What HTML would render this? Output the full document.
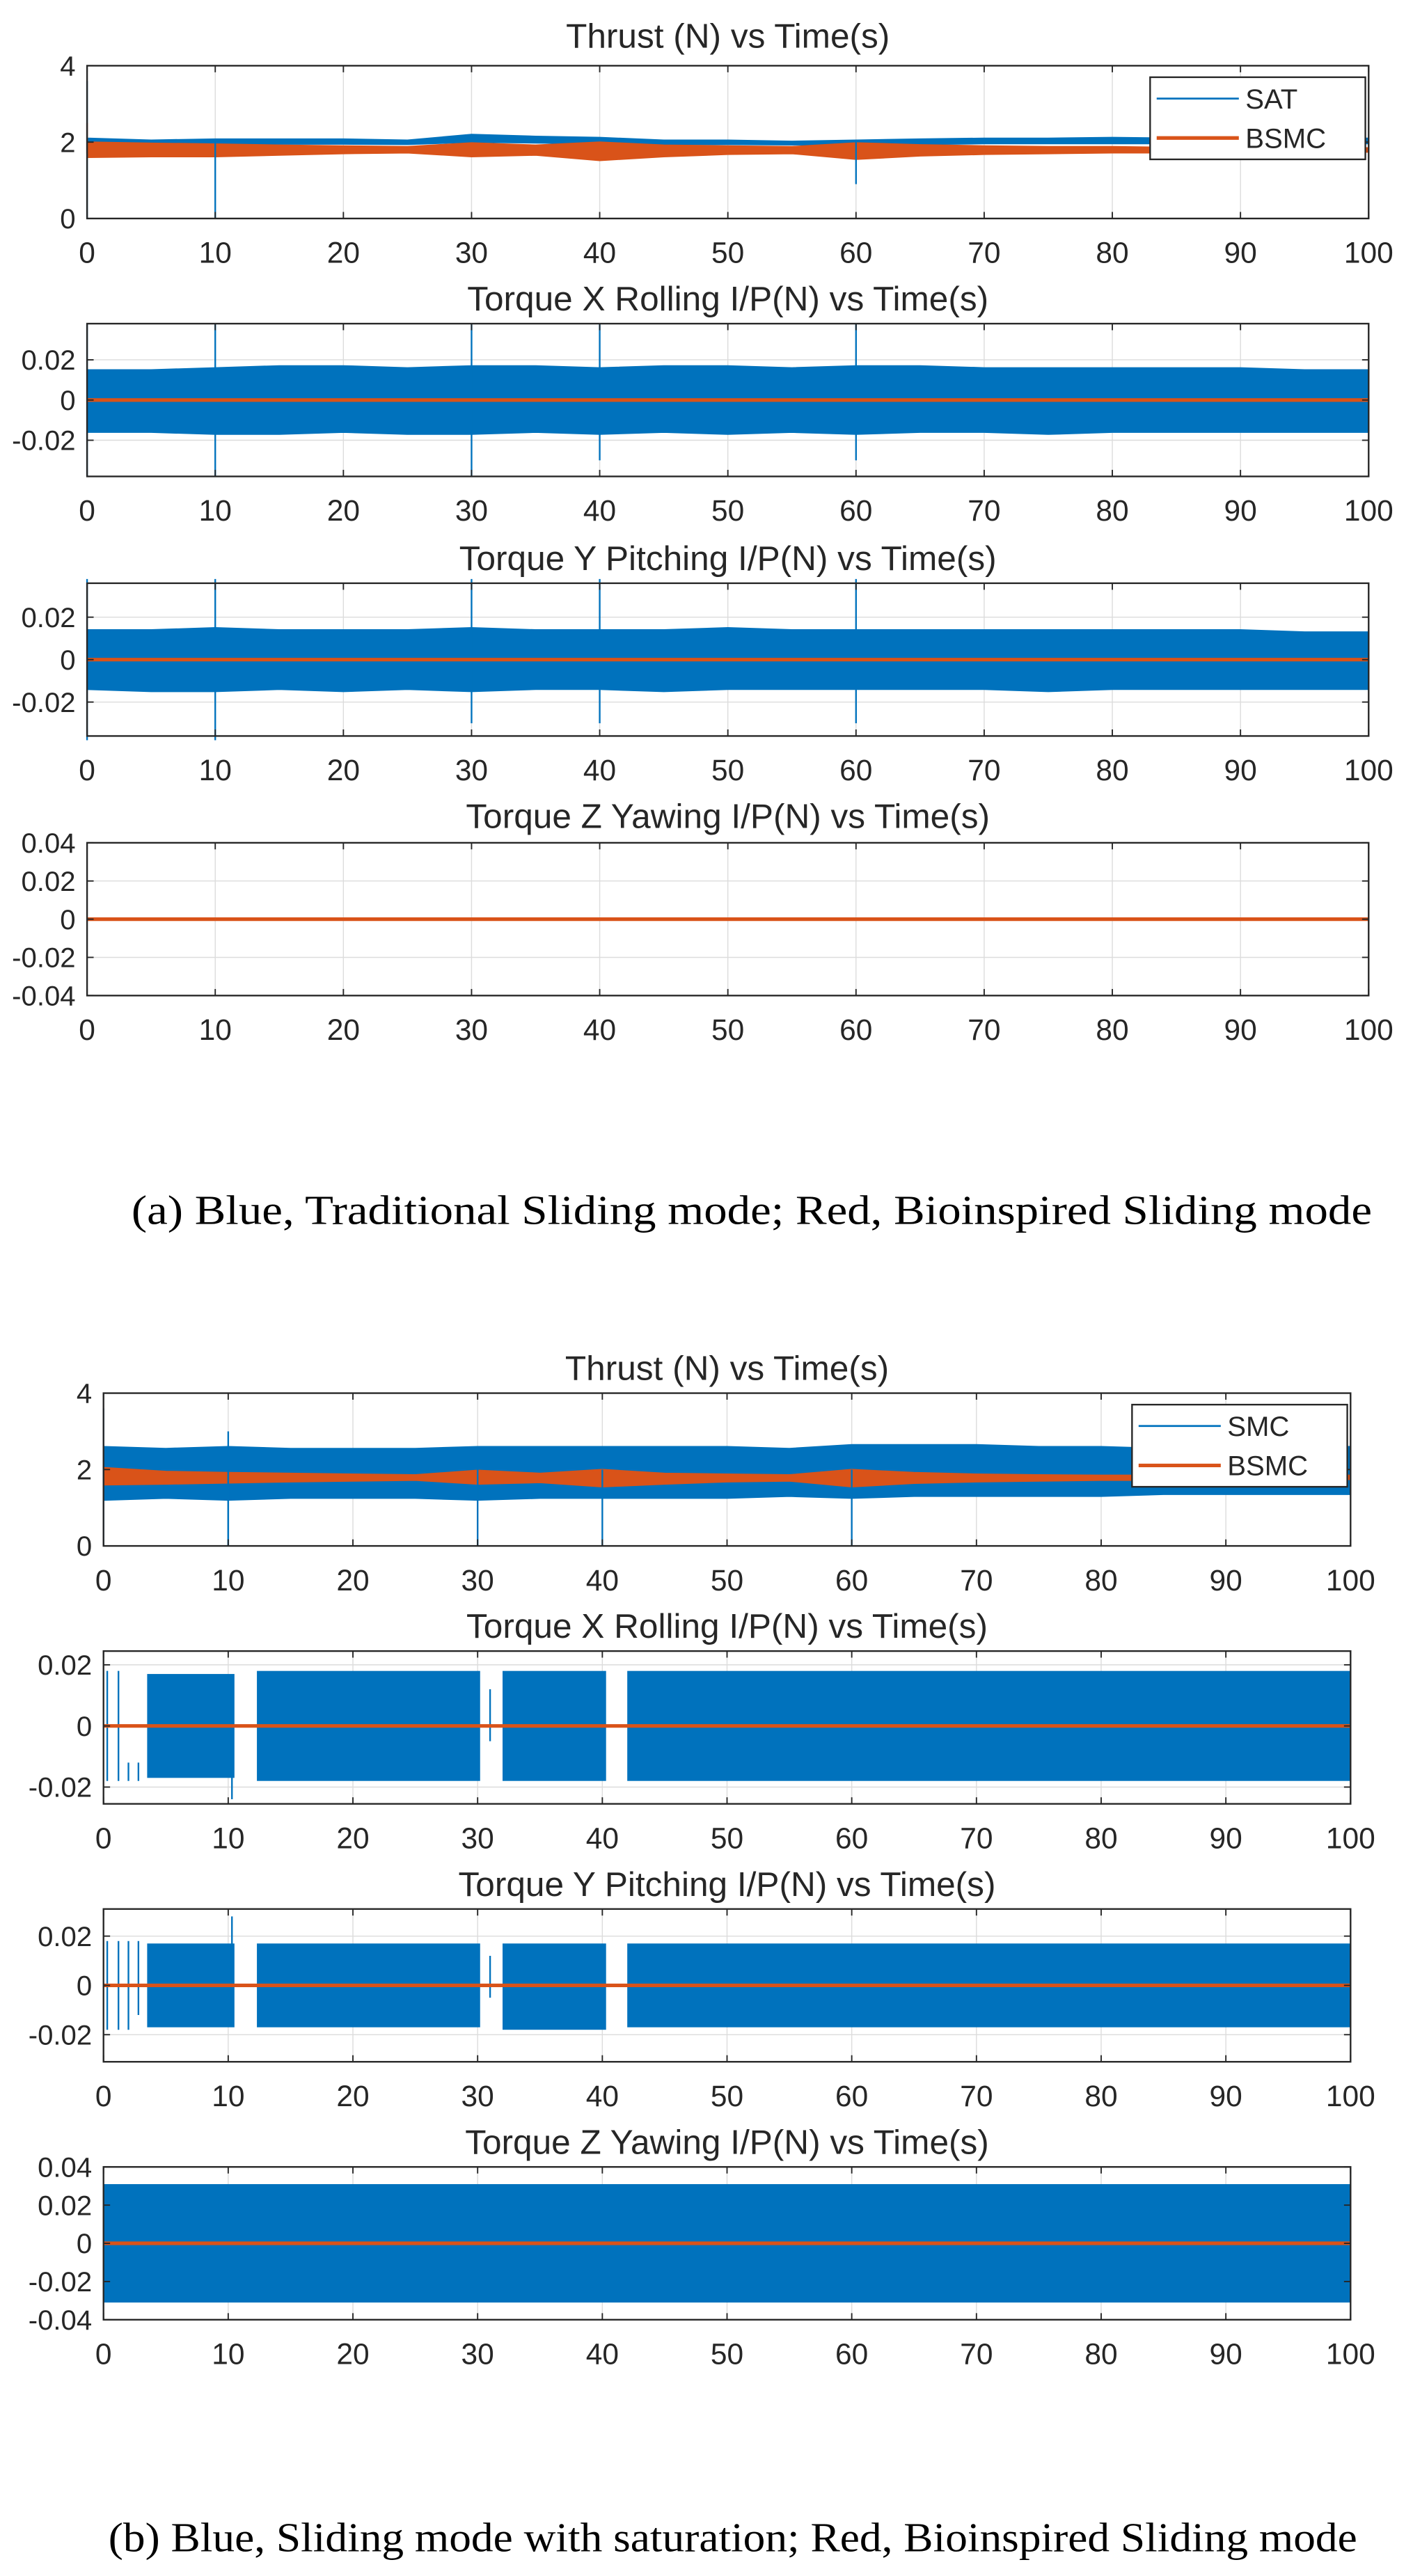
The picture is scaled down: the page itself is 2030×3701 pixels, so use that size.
<!DOCTYPE html>
<html><head><meta charset="utf-8"><style>
html,body{margin:0;padding:0;background:#fff}
svg{display:block}
text{font-family:"Liberation Sans",Arial,sans-serif;fill:#262626}
.cap{font-family:"Liberation Serif","Times New Roman",serif;fill:#000}
</style></head><body>
<svg id="fig" width="2030" height="3701" viewBox="0 0 860 1568" preserveAspectRatio="none" xmlns="http://www.w3.org/2000/svg">
<text class="cap" x="80" y="745" font-size="25" textLength="755" lengthAdjust="spacingAndGlyphs">(a) Blue, Traditional Sliding mode; Red, Bioinspired Sliding mode</text>
<text class="cap" x="66" y="1553" font-size="25" textLength="760" lengthAdjust="spacingAndGlyphs">(b) Blue, Sliding mode with saturation; Red, Bioinspired Sliding mode</text>
</svg>
<script>
// ---- data ----
const xTicks = [0,10,20,30,40,50,60,70,80,90,100];
const thrustTicks = [0,2,4];
const torqueTicks2 = [-0.02,0,0.02];
const torqueTicks4 = [-0.04,-0.02,0,0.02,0.04];
const titles = ["Thrust (N) vs Time(s)","Torque X Rolling I/P(N) vs Time(s)","Torque Y Pitching I/P(N) vs Time(s)","Torque Z Yawing I/P(N) vs Time(s)"];

const envT = [0,5,10,15,20,25,30,35,40,45,50,55,60,65,70,75,80,85,90,95,100];
const a1SatHi = [2.1,2.05,2.08,2.08,2.08,2.05,2.2,2.15,2.12,2.05,2.05,2.02,2.05,2.08,2.1,2.1,2.12,2.1,2.1,2.1,2.1];
const a1SatLo = [1.95,1.95,1.95,1.95,1.95,1.94,2.0,1.98,1.96,1.94,1.94,1.93,1.92,1.94,1.96,1.96,1.96,1.96,1.96,1.96,1.96];
const a1BsHi = [2.0,1.97,1.95,1.92,1.9,1.88,1.98,1.92,2.0,1.92,1.9,1.88,1.98,1.93,1.9,1.88,1.88,1.86,1.86,1.85,1.85];
const a1BsLo = [1.6,1.62,1.62,1.66,1.7,1.72,1.62,1.66,1.52,1.62,1.68,1.7,1.55,1.64,1.68,1.7,1.72,1.72,1.74,1.74,1.74];
const a2Hi = [0.015,0.015,0.016,0.017,0.017,0.016,0.017,0.017,0.016,0.017,0.017,0.016,0.017,0.017,0.016,0.016,0.016,0.016,0.016,0.015,0.015];
const a2Lo = [-0.016,-0.016,-0.017,-0.017,-0.016,-0.017,-0.017,-0.016,-0.017,-0.016,-0.017,-0.016,-0.017,-0.016,-0.016,-0.017,-0.016,-0.016,-0.016,-0.016,-0.016];
const a3Hi = [0.014,0.014,0.015,0.014,0.014,0.014,0.015,0.014,0.014,0.014,0.015,0.014,0.014,0.014,0.014,0.014,0.014,0.014,0.014,0.013,0.013];
const a3Lo = [-0.014,-0.015,-0.015,-0.014,-0.015,-0.014,-0.015,-0.014,-0.014,-0.015,-0.014,-0.014,-0.014,-0.014,-0.014,-0.015,-0.014,-0.014,-0.014,-0.014,-0.014];
const b1SmcHi = [2.6,2.55,2.6,2.55,2.55,2.55,2.6,2.6,2.6,2.6,2.6,2.55,2.65,2.65,2.65,2.6,2.6,2.55,2.55,2.55,2.6];
const b1SmcLo = [1.2,1.25,1.2,1.25,1.25,1.25,1.2,1.25,1.25,1.25,1.25,1.3,1.25,1.3,1.3,1.3,1.3,1.35,1.35,1.35,1.35];
const b1BsHi = [2.05,1.95,1.92,1.9,1.88,1.86,1.98,1.9,2.0,1.9,1.88,1.86,2.0,1.92,1.88,1.86,1.85,1.85,1.85,1.85,1.85];
const b1BsLo = [1.6,1.62,1.65,1.68,1.7,1.72,1.62,1.66,1.55,1.62,1.68,1.7,1.55,1.64,1.68,1.7,1.72,1.72,1.74,1.74,1.74];
const b2Start = [3.5,12.3,32.0,42.0];
const b2End   = [10.5,30.2,40.3,100];
const b2Hi    = [0.017,0.018,0.018,0.018];
const b2Lo    = [-0.017,-0.018,-0.018,-0.018];
const b3Start = [3.5,12.3,32.0,42.0];
const b3End   = [10.5,30.2,40.3,100];
const b3Hi    = [0.017,0.017,0.017,0.017];
const b3Lo    = [-0.017,-0.017,-0.018,-0.017];
const b4Start = [0];
const b4End   = [100];
const b4Hi    = [0.031];
const b4Lo    = [-0.031];
const a1SpikeT = [0,0,10,60];  const a1SpikeA=[3.6,2.0,2.0,2.0]; const a1SpikeB=[0,2.0,0,0.9];
const a1BsSpikeT=[0];           const a1BsSpikeA=[2.5];            const a1BsSpikeB=[1.7];
const a2SpikeT = [0,10,30,40,60]; const a2SpikeA=[0.038,0.038,0.038,0.038,0.038]; const a2SpikeB=[-0.038,-0.038,-0.038,-0.03,-0.03];
const a3SpikeT = [0,10,30,40,60]; const a3SpikeA=[0.038,0.038,0.038,0.038,0.038]; const a3SpikeB=[-0.038,-0.038,-0.03,-0.03,-0.03];
const b1SpikeT = [0,10,10,30,40,60]; const b1SpikeA=[3.6,3.0,2,2,2,2]; const b1SpikeB=[0,0,0,0,0,0];
const b2SpikeT = [0.3,1.2,2.0,2.8,10.3,31]; const b2SpikeA=[0.018,0.018,-0.012,-0.012,0.014,0.012]; const b2SpikeB=[-0.018,-0.018,-0.018,-0.018,-0.024,-0.005];
const b3SpikeT = [0.3,1.2,2.0,2.8,10.3,31]; const b3SpikeA=[0.018,0.018,0.018,0.018,0.028,0.012]; const b3SpikeB=[-0.018,-0.018,-0.018,-0.012,-0.012,-0.005];

const BLUE="#0072BD", ORANGE="#D95319";
const panels = [
 {L:53,R:833,T:40,B:133,ymin:0,ymax:4,ticks:thrustTicks,title:titles[0],tY:22,
  env:[[a1SatHi,a1SatLo,BLUE],[a1BsHi,a1BsLo,ORANGE]],spikes:[[a1SpikeT,a1SpikeA,a1SpikeB,BLUE],[a1BsSpikeT,a1BsSpikeA,a1BsSpikeB,ORANGE]],zero:false,legend:["SAT","BSMC"],name:"a-thrust"},
 {L:53,R:833,T:197,B:290,ymin:-0.038,ymax:0.038,ticks:torqueTicks2,title:titles[1],tY:182,
  env:[[a2Hi,a2Lo,BLUE]],spikes:[[a2SpikeT,a2SpikeA,a2SpikeB,BLUE]],zero:true,name:"a-torque-x"},
 {L:53,R:833,T:355,B:448,ymin:-0.036,ymax:0.036,ticks:torqueTicks2,title:titles[2],tY:340,
  env:[[a3Hi,a3Lo,BLUE]],spikes:[[a3SpikeT,a3SpikeA,a3SpikeB,BLUE]],zero:true,name:"a-torque-y"},
 {L:53,R:833,T:513,B:606,ymin:-0.04,ymax:0.04,ticks:torqueTicks4,title:titles[3],tY:497,
  env:[],spikes:[],zero:true,name:"a-torque-z"},
 {L:63,R:822,T:848,B:941,ymin:0,ymax:4,ticks:thrustTicks,title:titles[0],tY:833,
  env:[[b1SmcHi,b1SmcLo,BLUE],[b1BsHi,b1BsLo,ORANGE]],spikes:[[b1SpikeT,b1SpikeA,b1SpikeB,BLUE]],zero:false,legend:["SMC","BSMC"],name:"b-thrust"},
 {L:63,R:822,T:1005,B:1098,ymin:-0.0255,ymax:0.0245,ticks:torqueTicks2,title:titles[1],tY:990,
  blocks:[b2Start,b2End,b2Hi,b2Lo],spikes:[[b2SpikeT,b2SpikeA,b2SpikeB,BLUE]],env:[],zero:true,name:"b-torque-x"},
 {L:63,R:822,T:1162,B:1255,ymin:-0.031,ymax:0.031,ticks:torqueTicks2,title:titles[2],tY:1147,
  blocks:[b3Start,b3End,b3Hi,b3Lo],spikes:[[b3SpikeT,b3SpikeA,b3SpikeB,BLUE]],env:[],zero:true,name:"b-torque-y"},
 {L:63,R:822,T:1319,B:1412,ymin:-0.04,ymax:0.04,ticks:torqueTicks4,title:titles[3],tY:1304,
  blocks:[b4Start,b4End,b4Hi,b4Lo],spikes:[],env:[],zero:true,name:"b-torque-z"}
];

const NS="http://www.w3.org/2000/svg", svg=document.getElementById('fig');
function mk(tag,attrs,parent){const e=document.createElementNS(NS,tag);for(const k in attrs)e.setAttribute(k,attrs[k]);(parent||svg).appendChild(e);return e;}

panels.forEach(p=>{
  const g=mk('g',{});
  
  
  const X=t=>p.L+(t/100)*(p.R-p.L);
  const Y=v=>p.B-(v-p.ymin)/(p.ymax-p.ymin)*(p.B-p.T);
  xTicks.forEach(t=>{const l=mk('line',{x1:X(t),x2:X(t),y1:p.T,y2:p.B,stroke:'#dcdcdc','stroke-width':0.6},g);
    
    });
  p.ticks.forEach(v=>{const l=mk('line',{x1:p.L,x2:p.R,y1:Y(v),y2:Y(v),stroke:'#dcdcdc','stroke-width':0.6},g);
    
    });
  (p.env||[]).forEach(([hi,lo,c])=>{
    let pts=envT.map((t,i)=>X(t)+','+Y(hi[i]));
    pts=pts.concat(envT.slice().reverse().map((t,j)=>X(t)+','+Y(lo[envT.length-1-j])));
    const pg=mk('polygon',{points:pts.join(' '),fill:c,stroke:c,'stroke-width':0.8},g);
    
    
  });
  if(p.blocks){const [s,e,h,l]=p.blocks;s.forEach((st,i)=>{
    const r=mk('rect',{x:X(st),y:Y(h[i]),width:X(e[i])-X(st),height:Y(l[i])-Y(h[i]),fill:BLUE},g);
    
    });}
  (p.spikes||[]).forEach(([ts,a,b,c])=>{ts.forEach((t,i)=>{
    const l=mk('line',{x1:X(t),x2:X(t),y1:Y(a[i]),y2:Y(b[i]),stroke:c,'stroke-width':1},g);
    
    });});
  if(p.zero){const z=mk('line',{x1:p.L,x2:p.R,y1:Y(0),y2:Y(0),stroke:ORANGE,'stroke-width':2.2},g);
    
    }
  const bx=mk('rect',{x:p.L,y:p.T,width:p.R-p.L,height:p.B-p.T,fill:'none',stroke:'#262626','stroke-width':1},g);
  
  
  xTicks.forEach(t=>{
    mk('line',{x1:X(t),x2:X(t),y1:p.B,y2:p.B-4,stroke:'#262626','stroke-width':0.8},g);
    mk('line',{x1:X(t),x2:X(t),y1:p.T,y2:p.T+4,stroke:'#262626','stroke-width':0.8},g);
    const tx=mk('text',{x:X(t),y:p.B+27,'font-size':18,'text-anchor':'middle'},g);tx.textContent=t;
    
    
  });
  p.ticks.forEach(v=>{
    mk('line',{x1:p.L,x2:p.L+4,y1:Y(v),y2:Y(v),stroke:'#262626','stroke-width':0.8},g);
    mk('line',{x1:p.R,x2:p.R-4,y1:Y(v),y2:Y(v),stroke:'#262626','stroke-width':0.8},g);
    const tx=mk('text',{x:p.L-7,y:Y(v)+6,'font-size':17,'text-anchor':'end'},g);tx.textContent=v;
    
    
  });
  const tt=mk('text',{x:(p.L+p.R)/2,y:p.tY+7,'font-size':21,'text-anchor':'middle'},g);tt.textContent=p.title;
  
  
  if(p.legend){
    const lx=p.R-133, ly=p.T+7;
    const lg=mk('g',{},g);
    
    
    mk('rect',{x:lx,y:ly,width:131,height:50,fill:'#fff',stroke:'#262626','stroke-width':1},lg);
    [[p.legend[0],BLUE,1.2],[p.legend[1],ORANGE,2.2]].forEach(([lab,c,w],i)=>{
      const yy=ly+13+i*24;
      const ln=mk('line',{x1:lx+4,x2:lx+54,y1:yy,y2:yy,stroke:c,'stroke-width':w},lg);
      
      
      const t=mk('text',{x:lx+58,y:yy+6,'font-size':17},lg);t.textContent=lab;
      
      
    });
  }
});
</script>
</body></html>
